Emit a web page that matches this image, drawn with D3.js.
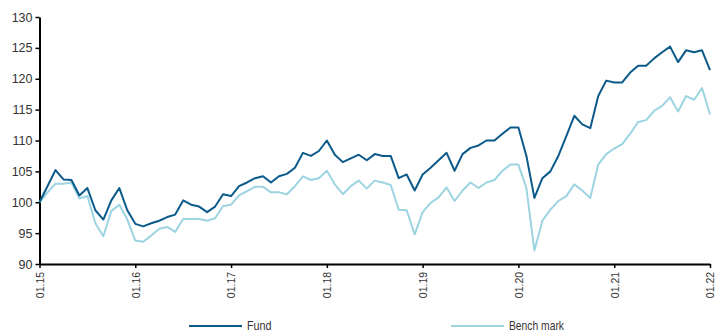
<!DOCTYPE html>
<html><head><meta charset="utf-8">
<script src="https://cdn.jsdelivr.net/npm/d3@7"></script>
<style>
body{margin:0;background:#fff;}
text{font-family:"Liberation Sans Narrow","Arial Narrow","Liberation Sans",Arial,sans-serif;fill:#333;}
</style></head>
<body><svg id="c" width="715" height="334"></svg>
<script>
const startYear = 2015, months = 85;
const xTickLabels = ["01.15","01.16","01.17","01.18","01.19","01.20","01.21","01.22"];
const yTicks = [90,95,100,105,110,115,120,125,130];
const seriesNames = ["Fund","Bench mark"];
const fund = [100.0,102.6,105.2,103.7,103.6,101.1,102.3,98.7,97.2,100.3,102.3,98.7,
96.5,96.1,96.6,97.0,97.6,98.0,100.3,99.6,99.3,98.4,99.3,101.3,
101.0,102.6,103.2,103.9,104.2,103.2,104.2,104.6,105.6,108.0,107.5,108.3,
110.0,107.7,106.5,107.1,107.7,106.8,107.8,107.5,107.5,103.9,104.5,101.9,
104.5,105.6,106.8,108.0,105.1,107.8,108.8,109.2,110.0,110.0,111.1,112.1,
112.1,107.5,100.7,103.9,105.0,107.5,110.7,114.0,112.6,112.0,117.2,119.7,
119.4,119.4,121.0,122.1,122.1,123.3,124.3,125.2,122.7,124.6,124.3,124.6,
121.4];
const bench = [100.0,101.6,103.0,103.0,103.2,100.6,101.0,96.6,94.5,98.6,99.6,97.2,
93.8,93.6,94.6,95.7,96.0,95.2,97.3,97.3,97.3,97.0,97.4,99.4,
99.6,101.1,101.8,102.5,102.5,101.6,101.6,101.3,102.6,104.2,103.6,103.9,
105.1,102.9,101.3,102.6,103.5,102.2,103.5,103.2,102.8,98.8,98.7,94.8,
98.4,99.9,100.8,102.4,100.2,101.9,103.2,102.3,103.2,103.6,105.1,106.1,
106.1,102.3,92.2,97.0,98.8,100.2,101.0,102.9,101.9,100.7,106.1,107.8,
108.7,109.4,111.1,113.0,113.3,114.8,115.6,117.0,114.7,117.2,116.6,118.5,
114.2];
const colors = ["#0b5a8a","#9dd4e1"];

const svg = d3.select("#c");
const L = 39.5, R = 710, T = 17, B = 264;
const x = d3.scaleLinear().domain([0, months-1]).range([L, R]);
const y = d3.scaleLinear().domain([90,130]).range([B, T]);

// Y axis
const ya = svg.append("g").attr("transform",`translate(${L},0)`)
  .call(d3.axisLeft(y).tickValues(yTicks).tickSize(4).tickSizeOuter(0).tickPadding(3).tickFormat(d3.format("d")));
ya.select(".domain").attr("stroke","#000").attr("stroke-width",2);
ya.selectAll(".tick line").attr("stroke","#000").attr("stroke-width",1.5);
ya.selectAll("text").attr("font-size",12.5).attr("fill","#333").style("font-family",null);

// X axis
const xTickVals = xTickLabels.map((d,i)=>i*12);
const xa = svg.append("g").attr("transform",`translate(0,${B})`)
  .call(d3.axisBottom(x).tickValues(xTickVals).tickSize(4).tickSizeOuter(0).tickFormat((d,i)=>xTickLabels[i]));
xa.select(".domain").attr("stroke","#000").attr("stroke-width",2);
xa.selectAll(".tick line").attr("stroke","#000").attr("stroke-width",1.5);
xa.selectAll("text").attr("font-size",11).attr("fill","#333").style("font-family",null)
  .attr("text-anchor","end").attr("dy","0.35em").attr("y",0).attr("x",0)
  .attr("transform","translate(0,8) rotate(-90) scale(0.95,1)");

// Lines
const line = d3.line().x((d,i)=>x(i)).y(d=>y(d));
[bench, fund].forEach((s,j)=>{
  svg.append("path").datum(s).attr("d",line).attr("fill","none")
    .attr("stroke", j===0?colors[1]:colors[0]).attr("stroke-width",2)
    .attr("stroke-linejoin","round");
});

// Legend
const legX = [189, 451];
seriesNames.forEach((n,i)=>{
  const g = svg.append("g").attr("transform",`translate(${legX[i]},326)`);
  g.append("line").attr("x1",0).attr("x2",53).attr("y1",0).attr("y2",0)
    .attr("stroke",colors[i]).attr("stroke-width",2);
  g.append("text").attr("x",58).attr("y",0).attr("dy","0.35em").attr("font-size",12)
    .attr("transform", i===1 ? "translate(58,0) scale(0.86,1) translate(-58,0)" : "translate(58,0) scale(0.9,1) translate(-58,0)")
    .text(n);
});
</script></body></html>
